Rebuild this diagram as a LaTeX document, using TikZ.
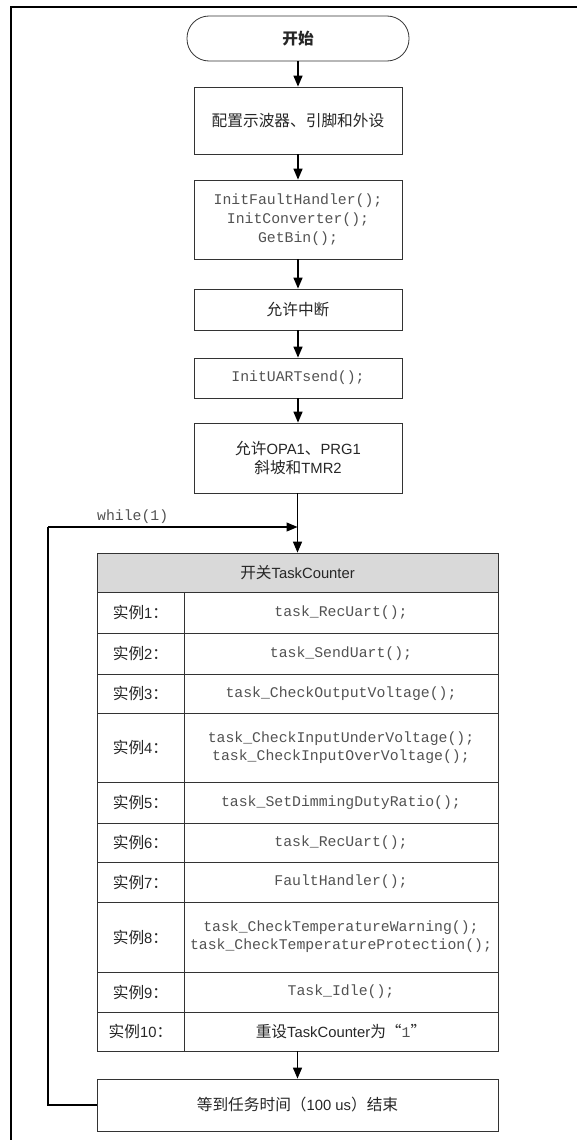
\documentclass[tikz,border=0pt]{standalone}
\usepackage{fontspec}
\setmainfont{Liberation Sans}
\setmonofont{Liberation Mono}
\newfontfamily\cjk[Scale=1.06]{Noto Sans CJK SC}
\usetikzlibrary{arrows.meta}
\newcommand{\zh}[1]{{\cjk #1}}
\newcommand{\code}[1]{{\ttfamily\color{black!68}#1}}
\tikzset{
  x=1pt, y=-1pt,
  txt/.style={font=\fontsize{14.8}{19}\selectfont, text=black!85, align=center, inner sep=0pt},
  box/.style={txt, draw=black!80, line width=0.8pt, minimum width=208pt},
  wide/.style={txt, draw=black!80, line width=0.8pt, minimum width=401pt},
  lab/.style={txt, draw=black!80, line width=0.8pt, minimum width=87pt},
  cell/.style={txt, draw=black!80, line width=0.8pt, minimum width=314pt, font=\fontsize{14.8}{18}\selectfont},
  flow/.style={line width=1.5pt, -{Triangle[length=11pt,width=9pt]}},
  loopline/.style={line width=1.2pt}
}
\begin{document}
\begin{tikzpicture}
\useasboundingbox (0,0) rectangle (576,1140);
% outer frame (open at right and bottom)
\draw[line width=2.5pt] (11,1145) -- (11,7) -- (581,7);

% start terminal and initialisation steps
\node[txt, draw=black!80, line width=0.8pt, rounded corners=22pt, minimum width=222pt, minimum height=45pt] (start) at (298,38.5) {\zh{\bfseries 开始}};
\node[box, minimum height=67pt] (cfg) at (298,120.5) {\zh{配置示波器、引脚和外设}};
\node[box, minimum height=79pt] (init) at (298,219.5) {\code{InitFaultHandler();}\\\code{InitConverter();}\\\code{GetBin();}};
\node[box, minimum height=41pt] (irq) at (298,309.5) {\zh{允许中断}};
\node[box, minimum height=40pt] (uart) at (298,378) {\code{InitUARTsend();}};
\node[box, minimum height=70pt] (en) at (298,458) {\zh{允许}OPA1\zh{、}PRG1\\\zh{斜坡和}TMR2};

% switch table
\node[wide, minimum height=39pt, fill=black!15] (hdr) at (297.5,572.5) {\zh{开关}TaskCounter};
\node[lab, minimum height=41pt] (c1) at (140.5,612.5) {\zh{实例}1\zh{：}};
\node[cell, minimum height=41pt] (t1) at (341,612.5) {\code{task\_RecUart();}};
\node[lab, minimum height=41pt] (c2) at (140.5,653.5) {\zh{实例}2\zh{：}};
\node[cell, minimum height=41pt] (t2) at (341,653.5) {\code{task\_SendUart();}};
\node[lab, minimum height=39pt] (c3) at (140.5,693.5) {\zh{实例}3\zh{：}};
\node[cell, minimum height=39pt] (t3) at (341,693.5) {\code{task\_CheckOutputVoltage();}};
\node[lab, minimum height=69pt] (c4) at (140.5,747.5) {\zh{实例}4\zh{：}};
\node[cell, minimum height=69pt] (t4) at (341,747.5) {\code{task\_CheckInputUnderVoltage();}\\\code{task\_CheckInputOverVoltage();}};
\node[lab, minimum height=41pt] (c5) at (140.5,802.5) {\zh{实例}5\zh{：}};
\node[cell, minimum height=41pt] (t5) at (341,802.5) {\code{task\_SetDimmingDutyRatio();}};
\node[lab, minimum height=39pt] (c6) at (140.5,842.5) {\zh{实例}6\zh{：}};
\node[cell, minimum height=39pt] (t6) at (341,842.5) {\code{task\_RecUart();}};
\node[lab, minimum height=40pt] (c7) at (140.5,882) {\zh{实例}7\zh{：}};
\node[cell, minimum height=40pt] (t7) at (341,882) {\code{FaultHandler();}};
\node[lab, minimum height=70pt] (c8) at (140.5,937) {\zh{实例}8\zh{：}};
\node[cell, minimum height=70pt] (t8) at (341,937) {\code{task\_CheckTemperatureWarning();}\\\code{task\_CheckTemperatureProtection();}};
\node[lab, minimum height=40pt] (c9) at (140.5,992) {\zh{实例}9\zh{：}};
\node[cell, minimum height=40pt] (t9) at (341,992) {\code{Task\_Idle();}};
\node[lab, minimum height=39pt] (c10) at (140.5,1031.5) {\zh{实例}10\zh{：}};
\node[cell, minimum height=39pt] (t10) at (341,1031.5) {\zh{重设}TaskCounter\zh{为“}\code{1}\zh{”}};

% end of task slot
\node[wide, minimum height=52pt] (wait) at (297.5,1105) {\zh{等到任务时间（}100 us\zh{）结束}};

% main flow
\draw[flow] (start) -- (cfg);
\draw[flow] (cfg) -- (init);
\draw[flow] (init) -- (irq);
\draw[flow] (irq) -- (uart);
\draw[flow] (uart) -- (en);
\coordinate (merge) at (297.5,527);
\draw[flow] (en.south -| merge) -- (hdr.north);
\draw[flow] (c10.south -| merge) -- (wait.north);

% while(1) loop back
\coordinate (corner) at (48,527);
\draw[loopline] (wait.west) -| (corner);
\draw[loopline, -{Triangle[length=11pt,width=9pt]}] (corner) -- (merge);
\node[txt, anchor=south west, inner sep=0pt] (wl) at (97,524) {\code{while(1)}};
\end{tikzpicture}
\end{document}
